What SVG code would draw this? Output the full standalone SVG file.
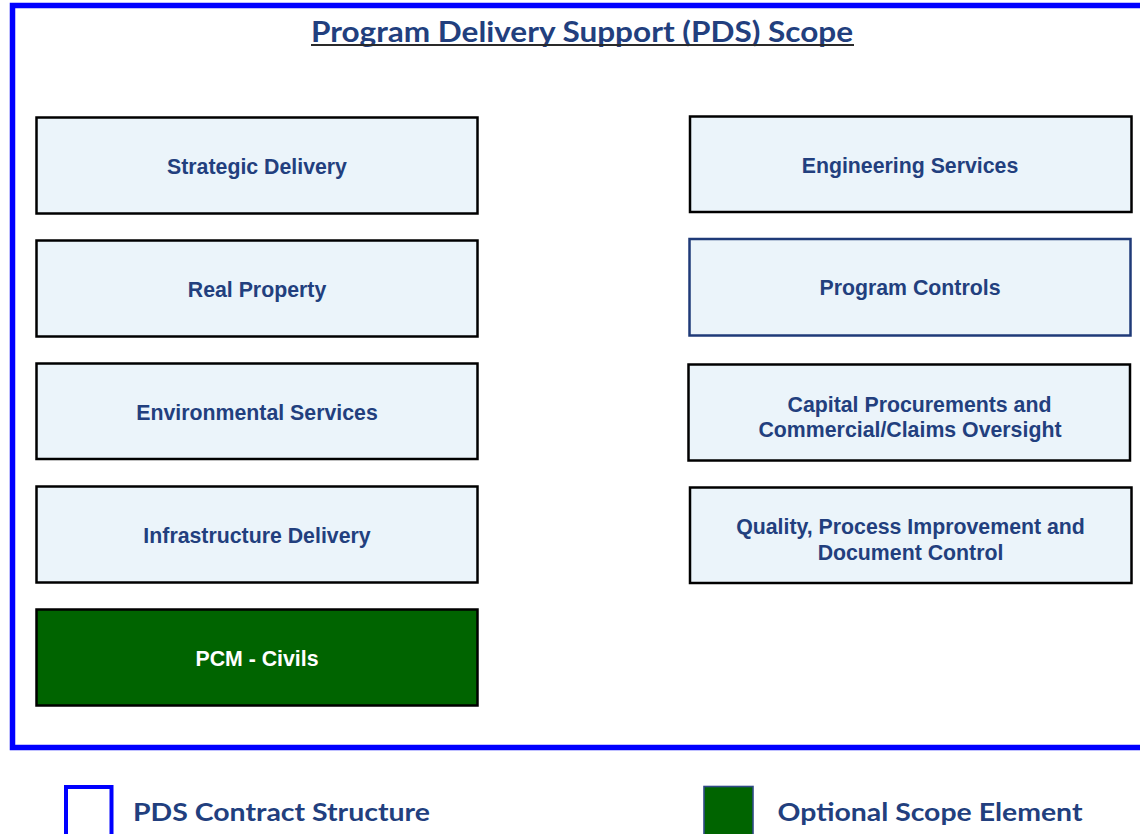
<svg xmlns="http://www.w3.org/2000/svg" width="1140" height="834" viewBox="0 0 1140 834">
<style>
.box{fill:#EBF4FA;stroke:#000;stroke-width:2.5}
.boxn{fill:#EBF4FA;stroke:#1F3A78;stroke-width:2.5}
.green{fill:#006400;stroke:#000;stroke-width:2.5}
.lbl{font-family:"Liberation Sans",Arial,sans-serif;font-weight:bold;font-size:21.3px;fill:#223F7E;text-anchor:middle}
.wlbl{font-family:"Liberation Sans",Arial,sans-serif;font-weight:bold;font-size:21.3px;fill:#FFFFFF;text-anchor:middle}
.gill{font-family:Lato,"Open Sans",sans-serif;font-weight:bold;fill:#223F7E}
</style>
<rect width="1140" height="834" fill="#FFFFFF"/>
<rect id="frame" x="12.5" y="5.5" width="1160" height="742" fill="none" stroke="#0000FF" stroke-width="5.5"/>
<g id="title">
<text class="gill" x="311" y="42" font-size="28" textLength="542" lengthAdjust="spacingAndGlyphs">Program Delivery Support (PDS) Scope</text>
<line x1="311" y1="45" x2="854" y2="45" stroke="#2A2A2A" stroke-width="2"/>
</g>
<g id="connectors"></g>
<g id="strategic-delivery"><rect class="box" x="36.5" y="117.5" width="441" height="96"/><text class="lbl" x="257" y="174">Strategic Delivery</text></g>
<g id="real-property"><rect class="box" x="36.5" y="240.5" width="441" height="96"/><text class="lbl" x="257" y="297">Real Property</text></g>
<g id="environmental-services"><rect class="box" x="36.5" y="363.5" width="441" height="95.5"/><text class="lbl" x="257" y="420">Environmental Services</text></g>
<g id="infrastructure-delivery"><rect class="box" x="36.5" y="486.5" width="441" height="96"/><text class="lbl" x="257" y="543">Infrastructure Delivery</text></g>
<g id="pcm-civils"><rect class="green" x="36.5" y="609.5" width="441" height="96"/><text class="wlbl" x="257" y="666">PCM - Civils</text></g>
<g id="engineering-services"><rect class="box" x="690" y="116.5" width="441.5" height="95.5"/><text class="lbl" x="910" y="173">Engineering Services</text></g>
<g id="program-controls"><rect class="boxn" x="689.5" y="239" width="441" height="96.5"/><text class="lbl" x="910" y="295">Program Controls</text></g>
<g id="capital-procurements"><rect class="box" x="688.5" y="364.5" width="441.5" height="96"/><text class="lbl" x="919.5" y="412">Capital Procurements and</text><text class="lbl" x="910" y="437">Commercial/Claims Oversight</text></g>
<g id="quality"><rect class="box" x="690" y="487.5" width="441.5" height="95.5"/><text class="lbl" x="910.5" y="534">Quality, Process Improvement and</text><text class="lbl" x="910.5" y="560">Document Control</text></g>
<g id="legend-contract">
<rect x="66" y="787" width="45.5" height="52" fill="#FFFFFF" stroke="#0000FF" stroke-width="4"/>
<text class="gill" x="133" y="821" font-size="25" textLength="297" lengthAdjust="spacingAndGlyphs">PDS Contract Structure</text>
</g>
<g id="legend-optional">
<rect x="704" y="786.5" width="49" height="52" fill="#006400" stroke="#2F4A86" stroke-width="1.6"/>
<text class="gill" x="777.5" y="821" font-size="25" textLength="305" lengthAdjust="spacingAndGlyphs">Optional Scope Element</text>
</g>
</svg>
